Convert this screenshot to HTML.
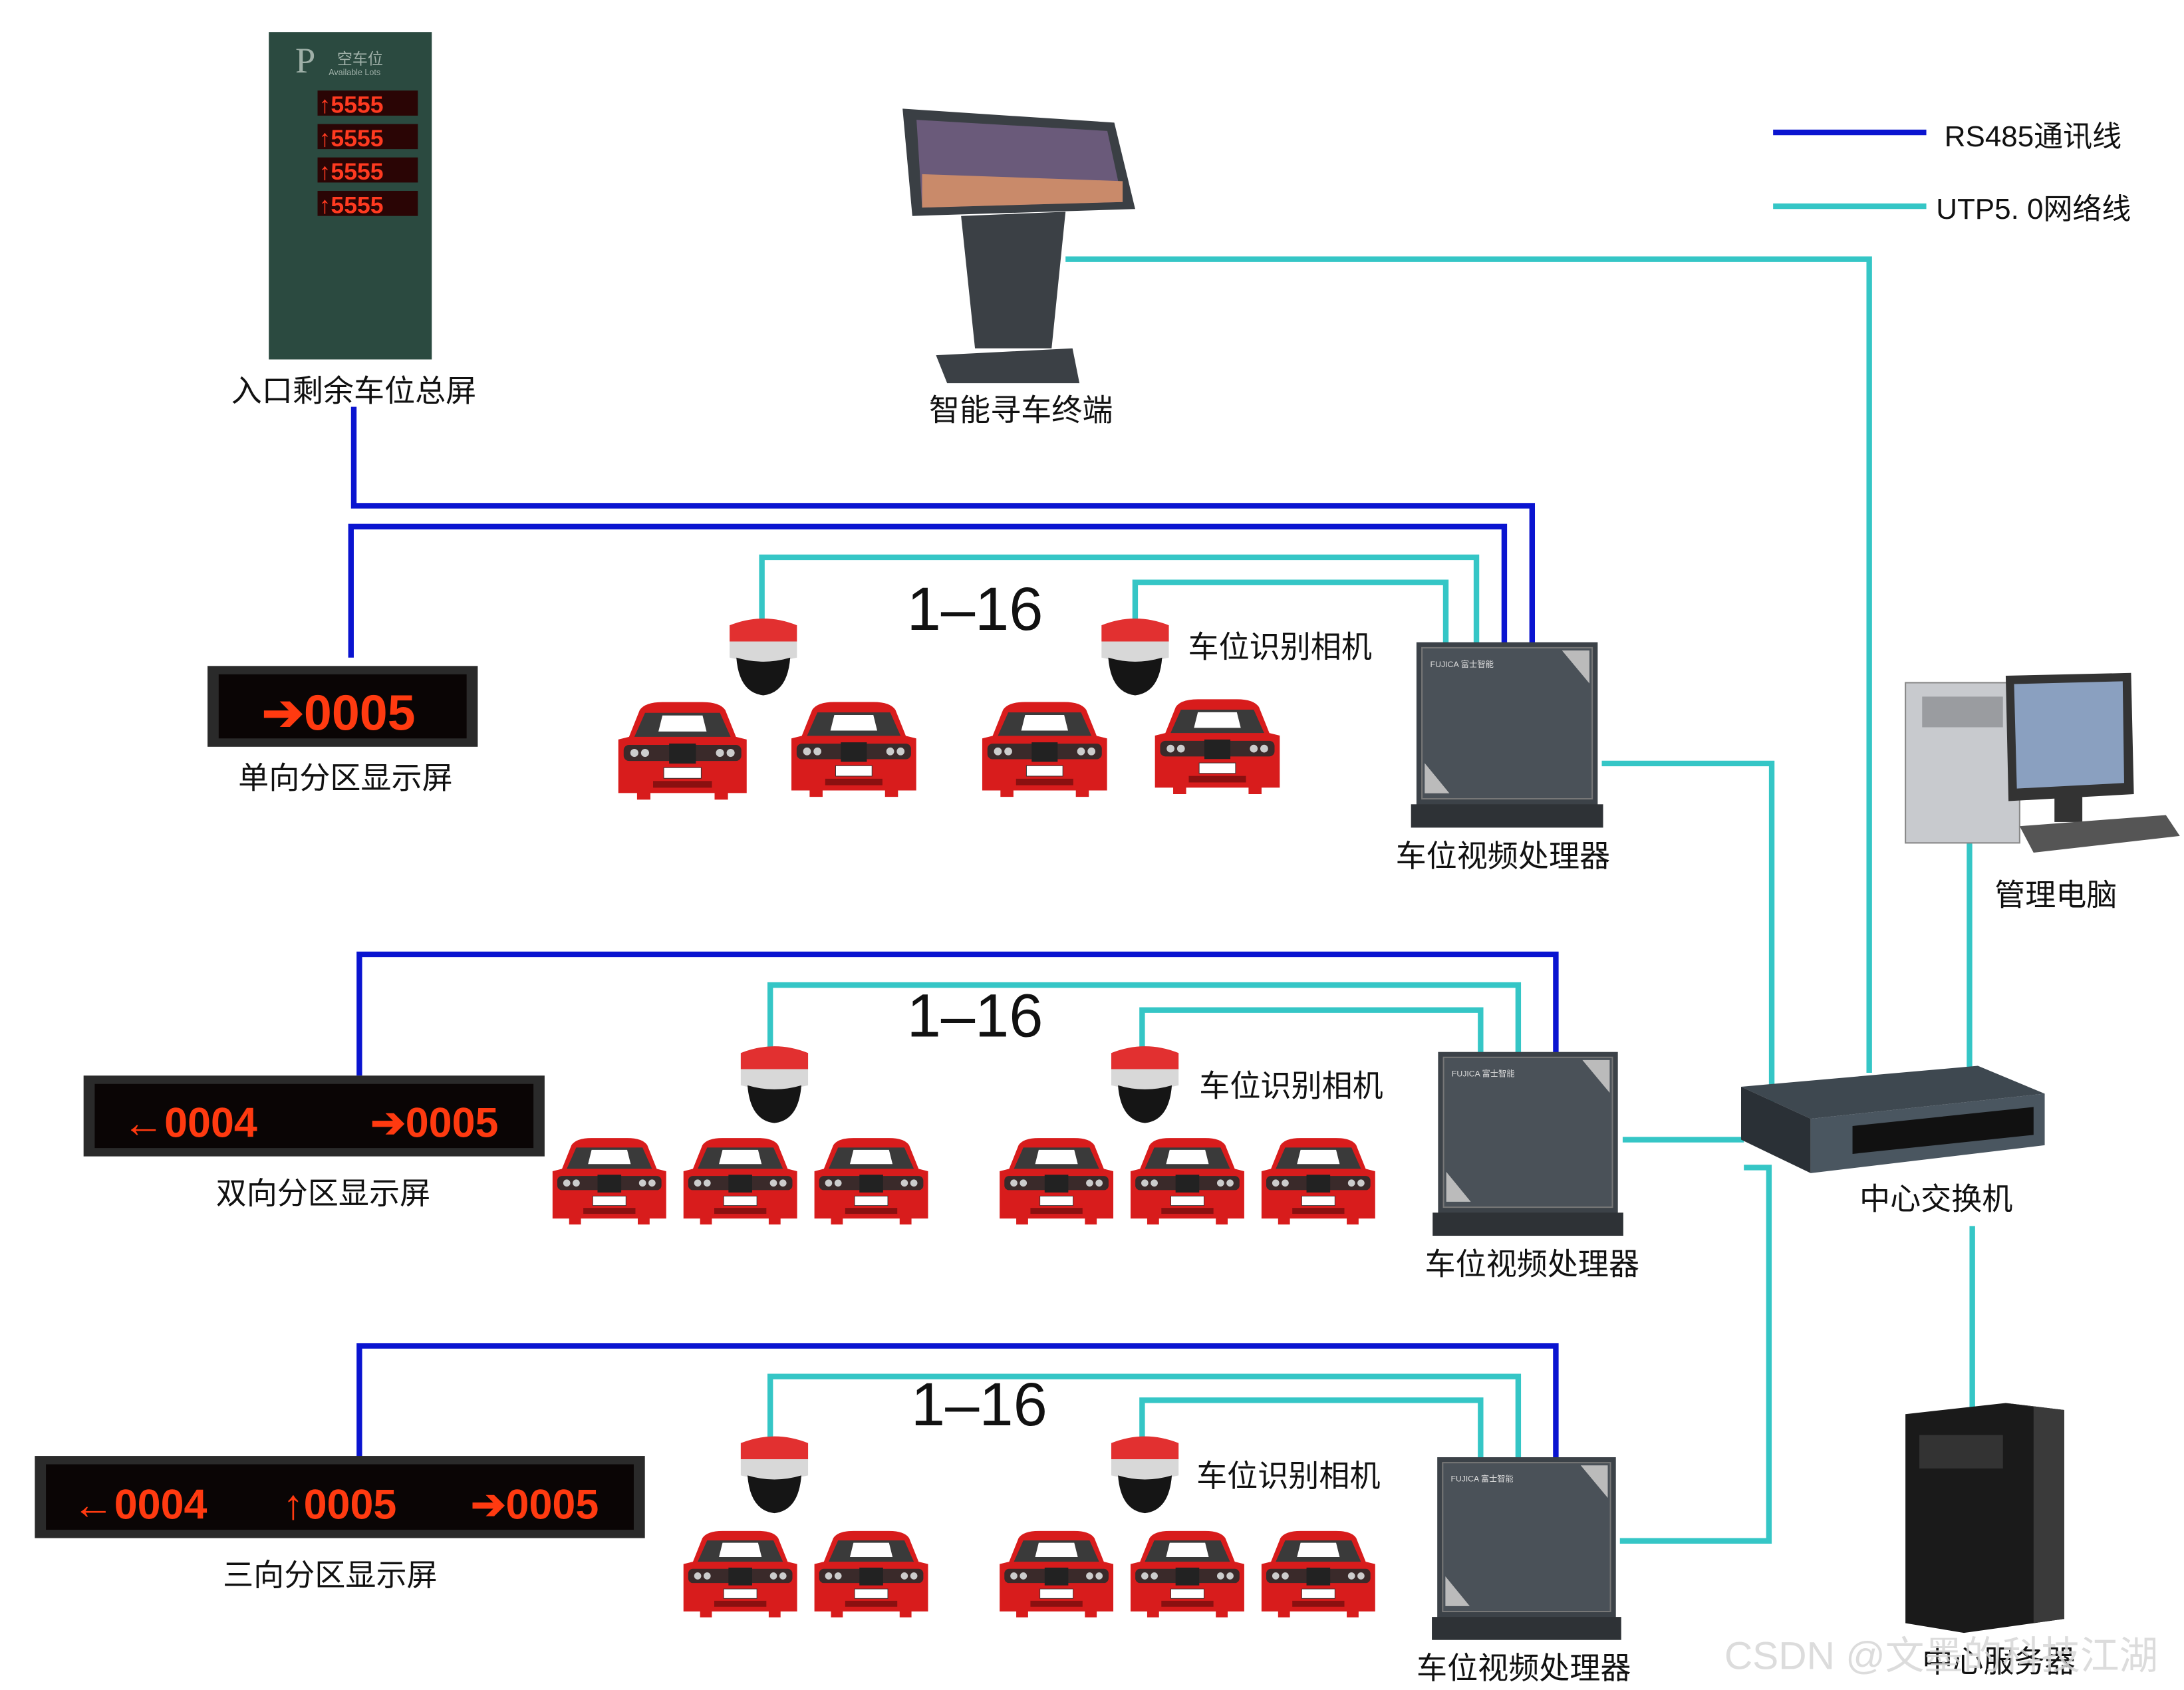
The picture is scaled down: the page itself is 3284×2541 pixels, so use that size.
<!DOCTYPE html>
<html><head><meta charset="utf-8"><style>
html,body{margin:0;padding:0;background:#fff;}
svg{display:block;}
text{font-family:"Liberation Sans","Noto Sans CJK SC",sans-serif;fill:#111;}
</style></head><body>
<svg width="3284" height="2541" viewBox="0 0 1568 1213" preserveAspectRatio="none" xmlns="http://www.w3.org/2000/svg">
<defs>
<symbol id="car" viewBox="0 0 100 75">
<path d="M18 8 Q22 2 35 2 L65 2 Q78 2 82 8 L90 28 L98 30 L98 70 L84 70 L84 75 L74 75 L74 70 L26 70 L26 75 L16 75 L16 70 L2 70 L2 30 L10 28 Z" fill="#d81c1c"/>
<path d="M22 10 L78 10 L86 28 L14 28 Z" fill="#3a3a3a"/>
<path d="M35 12 L65 12 L68 24 L32 24 Z" fill="#fff"/>
<rect x="6" y="34" width="88" height="12" fill="#3a2a2a" rx="4"/>
<rect x="40" y="33" width="20" height="15" fill="#222"/>
<circle cx="14" cy="40" r="3" fill="#ccc"/><circle cx="22" cy="40" r="3" fill="#ccc"/>
<circle cx="78" cy="40" r="3" fill="#ccc"/><circle cx="86" cy="40" r="3" fill="#ccc"/>
<rect x="36" y="51" width="28" height="8" fill="#fff" stroke="#333" stroke-width="0.5"/>
<rect x="28" y="61" width="44" height="5" fill="#8a1010"/>
</symbol>
<symbol id="cam" viewBox="0 0 60 60">
<path d="M5 6 Q30 -4 55 6 L55 18 L5 18 Z" fill="#e23030"/>
<path d="M5 18 L55 18 L55 30 Q30 36 5 30 Z" fill="#d8d8d8"/>
<path d="M10 30 Q30 36 50 30 Q48 56 30 58 Q12 56 10 30 Z" fill="#151515"/>
</symbol>
<symbol id="proc" viewBox="0 0 140 135">
<rect x="4" y="0" width="132" height="120" fill="#3c4248"/>
<rect x="8" y="4" width="124" height="110" fill="#4a5158" stroke="#777" stroke-width="1"/>
<path d="M110 6 L130 6 L130 30 Z" fill="#bbb"/>
<path d="M10 110 L10 88 L28 110 Z" fill="#bbb"/>
<rect x="0" y="118" width="140" height="17" fill="#2e3236"/>
<text x="14" y="18" style="font-size:6px;fill:#ddd">FUJICA 富士智能</text>
</symbol>
</defs>

<!-- legend -->
<line x1="1273" y1="95" x2="1383" y2="95" stroke="#0a14d0" stroke-width="4"/>
<line x1="1273" y1="148" x2="1383" y2="148" stroke="#35c6c6" stroke-width="4"/>
<text x="1396" y="105" style="font-size:21px">RS485通讯线</text>
<text x="1390" y="157" style="font-size:21px">UTP5. 0网络线</text>

<g fill="none" stroke-width="4">
<!-- teal -->
<g stroke="#35c6c6">
<polyline points="765,186 1342,186 1342,770"/>
<polyline points="547,448 547,400 1060,400 1060,462"/>
<polyline points="815,448 815,418 1038,418 1038,462"/>
<polyline points="1150,548 1272,548 1272,815 1252,815"/>
<polyline points="1165,818 1252,818"/>
<polyline points="1163,1106 1270,1106 1270,838 1252,838"/>
<line x1="1414" y1="600" x2="1414" y2="768"/>
<line x1="1416" y1="880" x2="1416" y2="1012"/>
<polyline points="553,752 553,707 1090,707 1090,757"/>
<polyline points="820,752 820,725 1063,725 1063,757"/>
<polyline points="553,1034 553,988 1090,988 1090,1047"/>
<polyline points="820,1034 820,1005 1063,1005 1063,1047"/>
</g>
<g stroke="#0a14d0">
<polyline points="254,292 254,363 1100,363 1100,462"/>
<polyline points="252,472 252,378 1080,378 1080,462"/>
<polyline points="258,772 258,685 1117,685 1117,757"/>
<polyline points="258,1047 258,966 1117,966 1117,1047"/>
</g>
</g>

<!-- entrance sign -->
<rect x="193" y="23" width="117" height="235" fill="#2b4a40"/>
<text x="212" y="52" style="font-size:26px;fill:#9fb0a8;font-family:'Liberation Serif',serif">P</text>
<text x="242" y="46" style="font-size:11px;fill:#9fb0a8">空车位</text>
<text x="236" y="54" style="font-size:6px;fill:#9fb0a8">Available Lots</text>
<g style="font-size:17px;font-weight:bold">
<rect x="228" y="65" width="72" height="18" fill="#2a0505"/><text x="229" y="81" style="fill:#ff3a20;font-size:17px;font-weight:bold">↑5555</text>
<rect x="228" y="89" width="72" height="18" fill="#2a0505"/><text x="229" y="105" style="fill:#ff3a20;font-size:17px;font-weight:bold">↑5555</text>
<rect x="228" y="113" width="72" height="18" fill="#2a0505"/><text x="229" y="129" style="fill:#ff3a20;font-size:17px;font-weight:bold">↑5555</text>
<rect x="228" y="137" width="72" height="18" fill="#2a0505"/><text x="229" y="153" style="fill:#ff3a20;font-size:17px;font-weight:bold">↑5555</text>
</g>
<text x="254" y="288" text-anchor="middle" style="font-size:22px">入口剩余车位总屏</text>

<!-- terminal -->
<polygon points="648,78 800,88 815,150 655,155" fill="#3a3f44"/>
<polygon points="658,86 795,94 806,145 662,149" fill="#6a5a7a"/>
<polygon points="662,125 806,130 806,145 662,149" fill="#c98a6a"/>
<polygon points="690,155 765,152 755,250 700,250" fill="#3b4045"/>
<polygon points="672,255 770,250 775,275 680,275" fill="#3b4045"/>
<text x="733" y="302" text-anchor="middle" style="font-size:22px">智能寻车终端</text>

<!-- displays -->
<rect x="149" y="478" width="194" height="58" fill="#2a2a2a"/>
<rect x="157" y="484" width="178" height="46" fill="#0a0505"/>
<text x="188" y="524" style="font-size:36px;fill:#ff3a10;font-weight:bold">➔0005</text>
<text x="248" y="566" text-anchor="middle" style="font-size:22px">单向分区显示屏</text>

<rect x="60" y="772" width="331" height="58" fill="#2a2a2a"/>
<rect x="68" y="778" width="315" height="46" fill="#0a0505"/>
<text x="88" y="816" style="font-size:30px;fill:#ff3a10;font-weight:bold">←0004</text>
<text x="266" y="816" style="font-size:30px;fill:#ff3a10;font-weight:bold">➔0005</text>
<text x="232" y="864" text-anchor="middle" style="font-size:22px">双向分区显示屏</text>

<rect x="25" y="1045" width="438" height="59" fill="#2a2a2a"/>
<rect x="33" y="1051" width="422" height="47" fill="#0a0505"/>
<text x="52" y="1090" style="font-size:30px;fill:#ff3a10;font-weight:bold">←0004</text>
<text x="203" y="1090" style="font-size:30px;fill:#ff3a10;font-weight:bold">↑0005</text>
<text x="338" y="1090" style="font-size:30px;fill:#ff3a10;font-weight:bold">➔0005</text>
<text x="237" y="1138" text-anchor="middle" style="font-size:22px">三向分区显示屏</text>

<!-- row1 -->
<text x="700" y="452" text-anchor="middle" style="font-size:44px">1–16</text>
<use href="#cam" x="519" y="443" width="58" height="58"/>
<use href="#cam" x="786" y="443" width="58" height="58"/>
<text x="853" y="472" style="font-size:22px">车位识别相机</text>
<use href="#car" x="442" y="502" width="96" height="72"/>
<use href="#car" x="565" y="502" width="96" height="70"/>
<use href="#car" x="702" y="502" width="96" height="70"/>
<use href="#car" x="826" y="500" width="96" height="70"/>
<use href="#proc" x="1013" y="460" width="138" height="135"/>
<text x="1079" y="622" text-anchor="middle" style="font-size:22px">车位视频处理器</text>

<!-- row2 -->
<text x="700" y="744" text-anchor="middle" style="font-size:44px">1–16</text>
<use href="#cam" x="527" y="750" width="58" height="58"/>
<use href="#cam" x="793" y="750" width="58" height="58"/>
<text x="861" y="787" style="font-size:22px">车位识别相机</text>
<use href="#car" x="395" y="815" width="85" height="64"/>
<use href="#car" x="489" y="815" width="85" height="64"/>
<use href="#car" x="583" y="815" width="85" height="64"/>
<use href="#car" x="716" y="815" width="85" height="64"/>
<use href="#car" x="810" y="815" width="85" height="64"/>
<use href="#car" x="904" y="815" width="85" height="64"/>
<use href="#proc" x="1028" y="755" width="138" height="132"/>
<text x="1100" y="915" text-anchor="middle" style="font-size:22px">车位视频处理器</text>

<!-- row3 -->
<text x="703" y="1023" text-anchor="middle" style="font-size:44px">1–16</text>
<use href="#cam" x="527" y="1030" width="58" height="58"/>
<use href="#cam" x="793" y="1030" width="58" height="58"/>
<text x="859" y="1067" style="font-size:22px">车位识别相机</text>
<use href="#car" x="489" y="1097" width="85" height="64"/>
<use href="#car" x="583" y="1097" width="85" height="64"/>
<use href="#car" x="716" y="1097" width="85" height="64"/>
<use href="#car" x="810" y="1097" width="85" height="64"/>
<use href="#car" x="904" y="1097" width="85" height="64"/>
<use href="#proc" x="1028" y="1045" width="136" height="133"/>
<text x="1094" y="1205" text-anchor="middle" style="font-size:22px">车位视频处理器</text>

<!-- PC -->
<rect x="1368" y="490" width="82" height="115" fill="#c8cace" stroke="#888"/>
<rect x="1380" y="500" width="58" height="22" fill="#9a9ca0"/>
<polygon points="1440,485 1530,483 1532,570 1442,575" fill="#333"/>
<polygon points="1446,491 1524,489 1525,562 1448,566" fill="#8aa0c0"/>
<rect x="1475" y="572" width="20" height="18" fill="#333"/>
<polygon points="1450,593 1555,585 1565,600 1460,612" fill="#555"/>
<text x="1476" y="650" text-anchor="middle" style="font-size:22px">管理电脑</text>

<!-- switch -->
<polygon points="1250,780 1420,765 1468,785 1300,803" fill="#3e4850"/>
<polygon points="1250,780 1300,803 1300,842 1250,818" fill="#2a3036"/>
<polygon points="1300,803 1468,785 1468,822 1300,842" fill="#4a5660"/>
<rect x="1330" y="808" width="130" height="20" fill="#111" transform="skewY(-6) translate(0,140)"/>
<text x="1390" y="868" text-anchor="middle" style="font-size:22px">中心交换机</text>

<!-- server -->
<polygon points="1368,1015 1440,1007 1482,1012 1482,1162 1410,1172 1368,1165" fill="#1a1a1a"/>
<polygon points="1440,1007 1482,1012 1482,1162 1460,1165 1460,1010" fill="#3a3a3a"/>
<rect x="1378" y="1030" width="60" height="24" fill="#333"/>
<text x="1435" y="1200" text-anchor="middle" style="font-size:22px">中心服务器</text>

<text x="1238" y="1198" style="font-size:28px;fill:#d6d6d6;fill-opacity:0.85">CSDN @文墨的科技江湖</text>
</svg>
</body></html>
